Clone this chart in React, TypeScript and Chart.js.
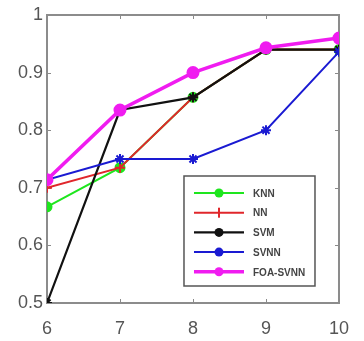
import React, { useEffect, useRef } from "react";
import { Chart, registerables } from "chart.js";

Chart.register(...registerables);

const xValues = [6, 7, 8, 9, 10];
const seriesNames = ["KNN", "NN", "SVM", "SVNN", "FOA-SVNN"];
const knn = [0.667, 0.735, 0.857, 0.94, 0.94];
const nn = [0.70, 0.735, 0.857, 0.94, 0.94];
const svm = [0.50, 0.835, 0.857, 0.94, 0.94];
const svnn = [0.714, 0.75, 0.75, 0.80, 0.936];
const foaSvnn = [0.714, 0.835, 0.90, 0.943, 0.96];
const yTicks = [0.5, 0.6, 0.7, 0.8, 0.9, 1];

const colors = ["#1ee61e", "#e0262b", "#111111", "#1a1ad2", "#f01cf0"];
const styles = ["circle", "cross", "star", "star", "circle"];
const widths = [2, 2, 2.2, 2, 3.5];
const radii = [4.5, 5, 5, 5, 5.5];
const allSeries = [knn, nn, svm, svnn, foaSvnn];

const FONT = "'Liberation Sans', Arial, sans-serif";

const framePlugin = {
  id: "frame",
  beforeDatasetsDraw(chart: any) {
    const { ctx, chartArea: a, scales } = chart;
    ctx.save();
    ctx.strokeStyle = "#8a8a8a";
    ctx.lineWidth = 1;
    const L = 4;
    xValues.forEach((v) => {
      const px = Math.round(scales.x.getPixelForValue(v)) + 0.5;
      ctx.beginPath();
      ctx.moveTo(px, a.bottom);
      ctx.lineTo(px, a.bottom - L);
      ctx.moveTo(px, a.top);
      ctx.lineTo(px, a.top + L);
      ctx.stroke();
    });
    yTicks.forEach((v) => {
      const py = Math.round(scales.y.getPixelForValue(v)) + 0.5;
      ctx.beginPath();
      ctx.moveTo(a.left, py);
      ctx.lineTo(a.left + L, py);
      ctx.moveTo(a.right, py);
      ctx.lineTo(a.right - L, py);
      ctx.stroke();
    });
    ctx.lineWidth = 2;
    ctx.strokeStyle = "#8c8c8c";
    ctx.strokeRect(a.left, a.top, a.right - a.left, a.bottom - a.top);
    ctx.restore();
  },
};

const legendPlugin = {
  id: "boxLegend",
  afterDatasetsDraw(chart: any) {
    const { ctx, chartArea: a } = chart;
    const right = a.right - 24;
    const bottom = a.bottom - 17;
    const w = 131;
    const h = 110;
    const left = right - w;
    const top = bottom - h;
    ctx.save();
    ctx.fillStyle = "#ffffff";
    ctx.fillRect(left, top, w, h);
    ctx.strokeStyle = "#555555";
    ctx.lineWidth = 1.5;
    ctx.strokeRect(left, top, w, h);
    ctx.font = "bold 10px " + FONT;
    ctx.textBaseline = "middle";
    seriesNames.forEach((name, i) => {
      const y = top + 17 + i * 19.7;
      ctx.strokeStyle = colors[i];
      ctx.lineWidth = widths[i];
      ctx.beginPath();
      ctx.moveTo(left + 10, y);
      ctx.lineTo(left + 60, y);
      ctx.stroke();
      ctx.fillStyle = colors[i];
      ctx.beginPath();
      ctx.arc(left + 35, y, i === 1 ? 0 : 4.5, 0, Math.PI * 2);
      ctx.fill();
      if (i === 1) {
        ctx.lineWidth = 2;
        ctx.beginPath();
        ctx.moveTo(left + 35, y - 5);
        ctx.lineTo(left + 35, y + 5);
        ctx.stroke();
      }
      ctx.fillStyle = "#444444";
      ctx.fillText(name, left + 69, y + 1);
    });
    ctx.restore();
  },
};

export default function App() {
  const ref = useRef<HTMLCanvasElement>(null);
  useEffect(() => {
    if (!ref.current) return;
    const datasets = allSeries.map((vals, i) => ({
      label: seriesNames[i],
      data: vals.map((v, j) => ({ x: xValues[j], y: v })),
      borderColor: colors[i],
      backgroundColor: colors[i],
      borderWidth: widths[i],
      pointStyle: styles[i] as any,
      pointRadius: radii[i],
      pointBorderWidth: 2,
      pointBorderColor: colors[i],
      pointBackgroundColor: colors[i],
      order: 5 - i,
      tension: 0,
    }));
    const chart = new Chart(ref.current, {
      type: "line",
      data: { datasets },
      options: {
        animation: false,
        responsive: false,
        maintainAspectRatio: false,
        layout: { padding: { top: 15, right: 11, left: 0, bottom: 0 } },
        plugins: { legend: { display: false }, tooltip: { enabled: false } },
        scales: {
          x: {
            type: "linear",
            min: 6,
            max: 10,
            afterFit: (s: any) => {
              s.height = 38;
            },
            afterBuildTicks: (s: any) => {
              s.ticks = xValues.map((v) => ({ value: v }));
            },
            grid: { display: false, drawTicks: false },
            border: { display: false },
            ticks: {
              padding: 15,
              color: "#555555",
              font: { family: FONT, size: 18 },
            },
          },
          y: {
            type: "linear",
            min: 0.5,
            max: 1,
            afterFit: (s: any) => {
              s.width = 47;
            },
            afterBuildTicks: (s: any) => {
              s.ticks = yTicks.map((v) => ({ value: v }));
            },
            grid: { display: false, drawTicks: false },
            border: { display: false },
            ticks: {
              padding: 4,
              color: "#555555",
              font: { family: FONT, size: 18 },
              callback: (v: any) => String(Math.round(Number(v) * 10) / 10),
            },
          },
        },
      },
      plugins: [framePlugin, legendPlugin],
    });
    return () => chart.destroy();
  }, []);
  return (
    <div style={{ position: "fixed", left: 0, top: 0, width: 364, height: 341, background: "#fff" }}>
      <canvas ref={ref} width={364} height={341} style={{ width: 364, height: 341, display: "block" }} />
    </div>
  );
}
